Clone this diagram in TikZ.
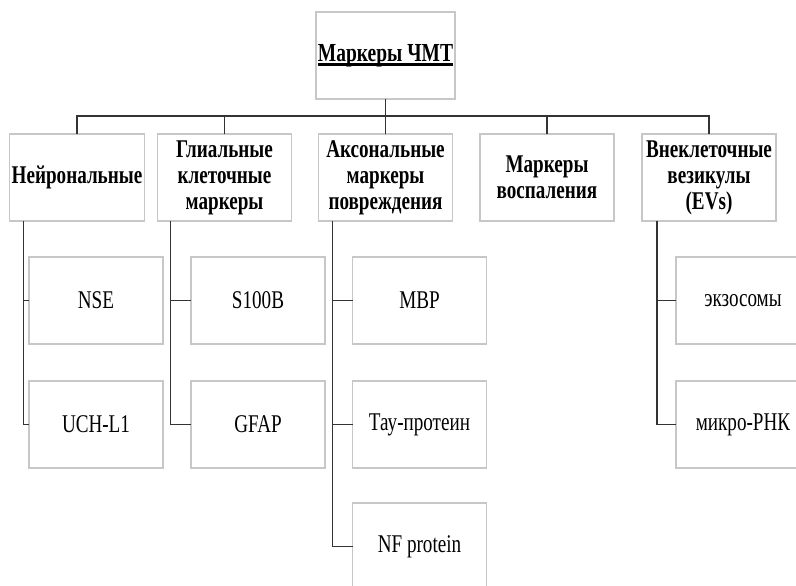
\documentclass[tikz,border=0pt]{standalone}
\usepackage{fontspec}
\setmainfont{Liberation Serif}[FakeStretch=0.75]
\newcommand{\ttlunder}[1]{\setbox0\hbox{#1}\rlap{\rule[-4.5pt]{\wd0}{2.4pt}}\box0}

\begin{document}
\begin{tikzpicture}[x=1pt, y=-1pt, outer sep=0pt]
  \tikzstyle{box}=[
    draw=black!22,
    rectangle,
    line width=1.2pt,
    minimum height=87pt,
    minimum width=134pt,
    inner sep=2pt,
    fill=white,
    align=center,
    anchor=center
  ]
  \tikzstyle{root}=[box, minimum width=135pt, font=\fontsize{26}{30}\selectfont\bfseries]
  \tikzstyle{group}=[box, font=\fontsize{25.5}{26}\selectfont\bfseries]
  \tikzstyle{item}=[box, font=\fontsize{25.5}{28}\selectfont]
  \tikzstyle{link}=[line width=1.5pt, draw=black!80]

  \useasboundingbox (0,0) rectangle (796,586);
  \clip (0,0) rectangle (796,586);

  \node[root] (top) at (385.5,55.5) {\ttlunder{Маркеры ЧМТ}};
  \coordinate (bus) at (0,116);

  \node[group] (group1) at (77,177.5) {Нейрональные};
  \node[group] (group2) at (224.5,177.5) {Глиальные\\клеточные\\маркеры};
  \node[group] (group3) at (385.5,177.5) {Аксональные\\маркеры\\повреждения};
  \node[group] (group4) at (547,177.5) {Маркеры\\воспаления};
  \node[group] (group5) at (709,177.5) {Внеклеточные\\везикулы\\(EVs)};

  \draw[link] (top.south) -- (top.south |- bus);
  \foreach \g in {group1,group2,group3,group4,group5}
    \draw[link] (top.south |- bus) -| (\g.north);

  \node[item] (item11) at (96,300.5) {NSE};
  \node[item] (item12) at (96,424.5) {UCH-L1};
  \draw[link] (group1.south west) ++(14,0) |- (item11.west);
  \draw[link] (group1.south west) ++(14,0) |- (item12.west);

  \node[item] (item21) at (258,300.5) {S100B};
  \node[item] (item22) at (258,424.5) {GFAP};
  \draw[link] (group2.south west) ++(13,0) |- (item21.west);
  \draw[link] (group2.south west) ++(13,0) |- (item22.west);

  \node[item] (item31) at (419.5,300.5) {MBP};
  \node[item] (item32) at (419.5,424.5) {Тау-протеин};
  \node[item] (item33) at (419.5,546.5) {NF protein};
  \draw[link] (group3.south west) ++(14,0) |- (item31.west);
  \draw[link] (group3.south west) ++(14,0) |- (item32.west);
  \draw[link] (group3.south west) ++(14,0) |- (item33.west);

  \node[item] (item51) at (743,300.5) {экзосомы};
  \node[item] (item52) at (743,424.5) {микро-РНК};
  \draw[link] (group5.south west) ++(15,0) |- (item51.west);
  \draw[link] (group5.south west) ++(15,0) |- (item52.west);
\end{tikzpicture}
\end{document}
